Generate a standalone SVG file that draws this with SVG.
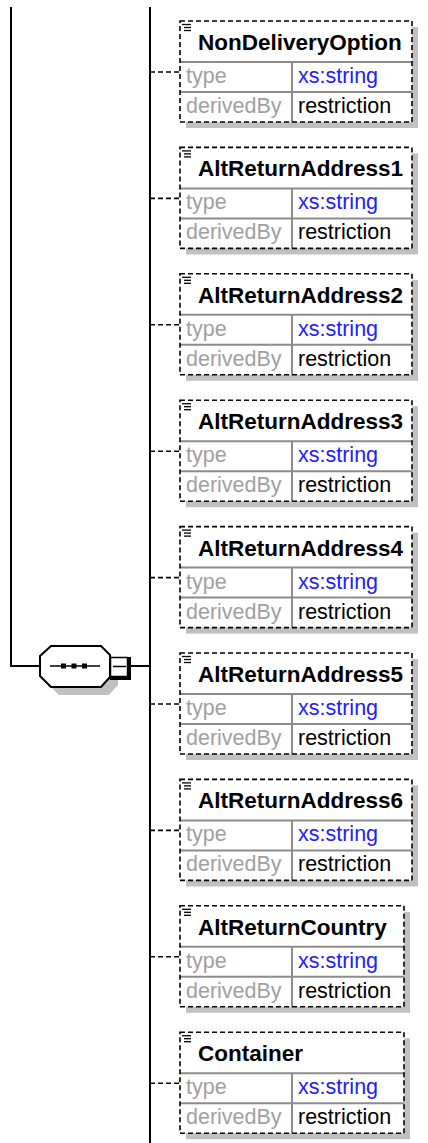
<svg xmlns="http://www.w3.org/2000/svg" width="428" height="1143" viewBox="0 0 428 1143">
<defs>
<style>
.bg{fill:#ffffff}
.shadow{fill:#c0c0c0}
.border{fill:none;stroke:#000;stroke-width:1.6;stroke-dasharray:5,3}
.div{stroke:#8c8c8c;stroke-width:2;fill:none}
.icon{stroke:#000;stroke-width:1.3}
.hdr{font-family:"Liberation Sans",Arial,sans-serif;font-weight:bold;font-size:22.5px;fill:#000}
.lbl{font-family:"Liberation Sans",Arial,sans-serif;font-size:21.5px;fill:#a0a0a0}
.typ{font-family:"Liberation Sans",Arial,sans-serif;font-size:21.5px;fill:#2020ff}
.val{font-family:"Liberation Sans",Arial,sans-serif;font-size:21.5px;fill:#000}
.conn{stroke:#000;stroke-width:2;fill:none}
.dconn{stroke:#000;stroke-width:1.6;fill:none;stroke-dasharray:5,3}
</style>
<g id="icon">
<line class="icon" x1="182" y1="24.5" x2="191" y2="24.5"/>
<line class="icon" x1="184" y1="27.5" x2="191" y2="27.5"/>
<line class="icon" x1="184" y1="30.5" x2="191" y2="30.5"/>
</g>
</defs>

<g id="connectors">
<path class="conn" d="M11,7 V666 H41"/>
<path class="conn" d="M130,666 H150"/>
<path class="conn" d="M150,7 V1143"/>
<path class="dconn" d="M150,72 H180"/>
<path class="dconn" d="M150,198.4 H180"/>
<path class="dconn" d="M150,324.8 H180"/>
<path class="dconn" d="M150,451.2 H180"/>
<path class="dconn" d="M150,577.6 H180"/>
<path class="dconn" d="M150,704 H180"/>
<path class="dconn" d="M150,830.4 H180"/>
<path class="dconn" d="M150,956.8 H180"/>
<path class="dconn" d="M150,1083.2 H180"/>
</g>

<g id="sequence">
<polygon class="shadow" points="59,654 109,654 118,663 118,685 109,695 59,695 48,684 48,664"/>
<polygon points="51,646 101,646 110,655 110,677 101,687 51,687 40,676 40,656" fill="#fff" stroke="#000" stroke-width="2"/>
<line x1="50" y1="666" x2="100" y2="666" stroke="#000" stroke-width="1.5"/>
<rect x="61" y="663.5" width="5" height="5" fill="#000"/>
<rect x="71.5" y="663.5" width="5" height="5" fill="#000"/>
<rect x="82" y="663.5" width="5" height="5" fill="#000"/>
<rect x="110.5" y="657.5" width="17" height="19" fill="#fff" stroke="#000" stroke-width="1.5"/>
<path d="M129.5,657 V678.5 H110" stroke="#000" stroke-width="3" fill="none"/>
<line x1="113" y1="666.5" x2="126" y2="666.5" stroke="#000" stroke-width="1.5"/>
</g>

<g id="node-NonDeliveryOption" transform="translate(0,0)">
<rect class="shadow" x="186" y="27" width="232" height="101"/>
<rect class="bg" x="180" y="21" width="232" height="101"/>
<path class="div" d="M180,62 H412 M180,92 H412 M292,62 V122"/>
<rect class="border" x="180" y="21" width="232" height="101"/>
<use href="#icon"/>
<text class="hdr" x="198" y="50">NonDeliveryOption</text>
<text class="lbl" x="186" y="83">type</text>
<text class="typ" x="298" y="83">xs:string</text>
<text class="lbl" x="186" y="113">derivedBy</text>
<text class="val" x="298" y="113">restriction</text>
</g>

<g id="node-AltReturnAddress1" transform="translate(0,126.4)">
<rect class="shadow" x="186" y="27" width="232" height="101"/>
<rect class="bg" x="180" y="21" width="232" height="101"/>
<path class="div" d="M180,62 H412 M180,92 H412 M292,62 V122"/>
<rect class="border" x="180" y="21" width="232" height="101"/>
<use href="#icon"/>
<text class="hdr" x="198" y="50">AltReturnAddress1</text>
<text class="lbl" x="186" y="83">type</text>
<text class="typ" x="298" y="83">xs:string</text>
<text class="lbl" x="186" y="113">derivedBy</text>
<text class="val" x="298" y="113">restriction</text>
</g>

<g id="node-AltReturnAddress2" transform="translate(0,252.8)">
<rect class="shadow" x="186" y="27" width="232" height="101"/>
<rect class="bg" x="180" y="21" width="232" height="101"/>
<path class="div" d="M180,62 H412 M180,92 H412 M292,62 V122"/>
<rect class="border" x="180" y="21" width="232" height="101"/>
<use href="#icon"/>
<text class="hdr" x="198" y="50">AltReturnAddress2</text>
<text class="lbl" x="186" y="83">type</text>
<text class="typ" x="298" y="83">xs:string</text>
<text class="lbl" x="186" y="113">derivedBy</text>
<text class="val" x="298" y="113">restriction</text>
</g>

<g id="node-AltReturnAddress3" transform="translate(0,379.2)">
<rect class="shadow" x="186" y="27" width="232" height="101"/>
<rect class="bg" x="180" y="21" width="232" height="101"/>
<path class="div" d="M180,62 H412 M180,92 H412 M292,62 V122"/>
<rect class="border" x="180" y="21" width="232" height="101"/>
<use href="#icon"/>
<text class="hdr" x="198" y="50">AltReturnAddress3</text>
<text class="lbl" x="186" y="83">type</text>
<text class="typ" x="298" y="83">xs:string</text>
<text class="lbl" x="186" y="113">derivedBy</text>
<text class="val" x="298" y="113">restriction</text>
</g>

<g id="node-AltReturnAddress4" transform="translate(0,505.6)">
<rect class="shadow" x="186" y="27" width="232" height="101"/>
<rect class="bg" x="180" y="21" width="232" height="101"/>
<path class="div" d="M180,62 H412 M180,92 H412 M292,62 V122"/>
<rect class="border" x="180" y="21" width="232" height="101"/>
<use href="#icon"/>
<text class="hdr" x="198" y="50">AltReturnAddress4</text>
<text class="lbl" x="186" y="83">type</text>
<text class="typ" x="298" y="83">xs:string</text>
<text class="lbl" x="186" y="113">derivedBy</text>
<text class="val" x="298" y="113">restriction</text>
</g>

<g id="node-AltReturnAddress5" transform="translate(0,632)">
<rect class="shadow" x="186" y="27" width="232" height="101"/>
<rect class="bg" x="180" y="21" width="232" height="101"/>
<path class="div" d="M180,62 H412 M180,92 H412 M292,62 V122"/>
<rect class="border" x="180" y="21" width="232" height="101"/>
<use href="#icon"/>
<text class="hdr" x="198" y="50">AltReturnAddress5</text>
<text class="lbl" x="186" y="83">type</text>
<text class="typ" x="298" y="83">xs:string</text>
<text class="lbl" x="186" y="113">derivedBy</text>
<text class="val" x="298" y="113">restriction</text>
</g>

<g id="node-AltReturnAddress6" transform="translate(0,758.4)">
<rect class="shadow" x="186" y="27" width="232" height="101"/>
<rect class="bg" x="180" y="21" width="232" height="101"/>
<path class="div" d="M180,62 H412 M180,92 H412 M292,62 V122"/>
<rect class="border" x="180" y="21" width="232" height="101"/>
<use href="#icon"/>
<text class="hdr" x="198" y="50">AltReturnAddress6</text>
<text class="lbl" x="186" y="83">type</text>
<text class="typ" x="298" y="83">xs:string</text>
<text class="lbl" x="186" y="113">derivedBy</text>
<text class="val" x="298" y="113">restriction</text>
</g>

<g id="node-AltReturnCountry" transform="translate(0,884.8)">
<rect class="shadow" x="186" y="27" width="224" height="101"/>
<rect class="bg" x="180" y="21" width="224" height="101"/>
<path class="div" d="M180,62 H404 M180,92 H404 M292,62 V122"/>
<rect class="border" x="180" y="21" width="224" height="101"/>
<use href="#icon"/>
<text class="hdr" x="198" y="50">AltReturnCountry</text>
<text class="lbl" x="186" y="83">type</text>
<text class="typ" x="298" y="83">xs:string</text>
<text class="lbl" x="186" y="113">derivedBy</text>
<text class="val" x="298" y="113">restriction</text>
</g>

<g id="node-Container" transform="translate(0,1011.2)">
<rect class="shadow" x="186" y="27" width="224" height="101"/>
<rect class="bg" x="180" y="21" width="224" height="101"/>
<path class="div" d="M180,62 H404 M180,92 H404 M292,62 V122"/>
<rect class="border" x="180" y="21" width="224" height="101"/>
<use href="#icon"/>
<text class="hdr" x="198" y="50">Container</text>
<text class="lbl" x="186" y="83">type</text>
<text class="typ" x="298" y="83">xs:string</text>
<text class="lbl" x="186" y="113">derivedBy</text>
<text class="val" x="298" y="113">restriction</text>
</g>
</svg>
